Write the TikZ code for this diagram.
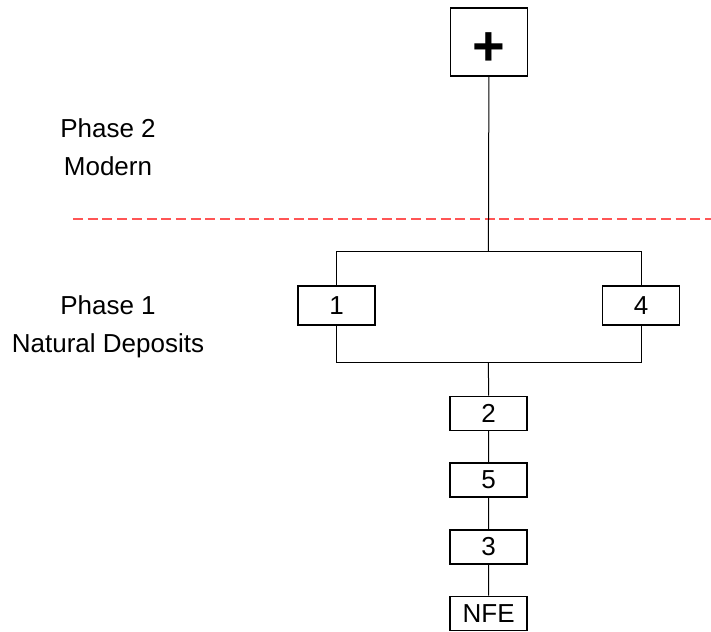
\documentclass[tikz,border=0pt]{standalone}
\usepackage{fontspec}
\setmainfont{Liberation Sans}
\definecolor{phaseline}{RGB}{255,85,85}
\begin{document}
\begin{tikzpicture}[x=1pt,y=-1pt]

    \tikzset{
      ctx/.style={
        draw,
        line width=1.6pt,
        inner sep=0pt,
        minimum width=77pt,
        minimum height=34pt,
        font=\fontsize{26}{30}\selectfont,
      },
      link/.style={line width=1pt},
      phase/.style={align=center,font=\fontsize{26}{38}\selectfont},
    }
    \useasboundingbox (0,0) rectangle (711,631);
	\node[ctx,minimum height=68pt,font=\fontsize{56}{56}\selectfont\bfseries] (top) at (489,42) {\raisebox{-24pt}[0pt][0pt]{+}};
	\node[ctx,minimum height=39pt] (c1) at (336.6,305.5) {1};
	\node[ctx,minimum height=39pt] (c4) at (641,305.5) {4};
	\node[ctx] (c2) at (488.7,413.3) {2};
	\node[ctx] (c5) at (488.7,480) {5};
	\node[ctx] (c3) at (488.7,547) {3};
	\node[ctx] (nfe) at (488.7,613.3) {NFE};
	\node[phase] (ph2) at (108,147) {Phase 2\\Modern};
	\node[phase] (ph1) at (108,327) {Phase 1\\Natural Deposits};
	\coordinate (splitT) at (488.4,251.7);
	\coordinate (splitB) at (488.4,362.3);
	\draw[phaseline,line width=2pt,dash pattern=on 10pt off 4.7pt] (73,218.7) -- (711,218.7);
	\draw[link] (top) -- (splitT);
	\draw[link] (c1) -- (c1 |- splitT) -- (c4 |- splitT) -- (c4);
	\draw[link] (c1) -- (c1 |- splitB) -- (c4 |- splitB) -- (c4);
	\draw[link] (splitB) -- (c2) -- (c5) -- (c3) -- (nfe);

\end{tikzpicture}
\end{document}
